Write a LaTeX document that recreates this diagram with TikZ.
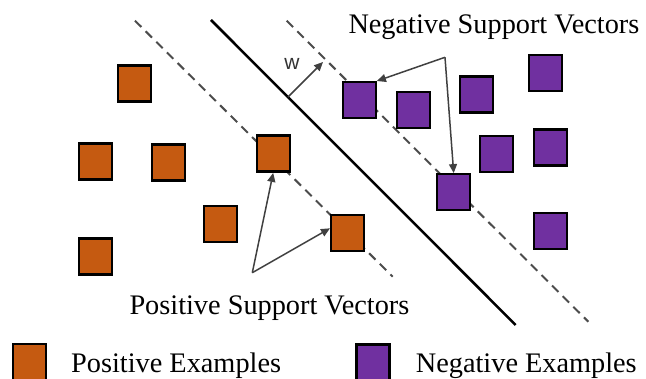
\documentclass[tikz,border=0pt]{standalone}
\usepackage{fontspec}
\setmainfont{Liberation Serif}
\newfontfamily\wfont{Liberation Sans}
\usetikzlibrary{arrows.meta}

\definecolor{posorange}{HTML}{C55A11}
\definecolor{negpurple}{HTML}{7030A0}

\begin{document}
\begin{tikzpicture}[
    x=1pt, y=-1pt,
    possq/.style={rectangle, draw, line width=2.4pt, fill=posorange, minimum width=33pt, minimum height=36pt, inner sep=0pt},
    negsq/.style={possq, fill=negpurple},
    margin/.style={dash pattern=on 9pt off 6pt, line width=2pt, draw=black!70},
    arrow/.style={-{Triangle[length=9pt, width=8pt]}, line width=1.5pt, draw=black!75},
    lbl/.style={font=\fontsize{28.3pt}{34pt}\selectfont, inner sep=0pt, anchor=base west}
]

\useasboundingbox (0,0) rectangle (646,379);
\clip (0,0) rectangle (646,379);

% Hyperplane and margins
\draw[margin] (135,20.7) -- (392.7,276.7);
\draw[line width=2.5pt] (211,20) -- (515.7,325);
\draw[margin] (286.7,20.7) -- (588.3,321.7);

% Normal vector
\coordinate (wbase) at (288,97);
\coordinate (wtip) at (323,62);
\draw[arrow] (wbase) -- (wtip);
\node[font=\wfont\fontsize{21pt}{24pt}\selectfont, text=black!80, inner sep=0pt] (wlbl) at (292,64) {w};

% Positive examples
\foreach \x/\y [count=\i] in {134.5/83.4, 95.5/161.4, 168.2/162.5, 273.2/153.7, 220.4/224.2, 347.7/233.3, 95.5/256.4} {
    \node[possq] (p\i) at (\x,\y) {};
}

% Negative examples
\foreach \x/\y [count=\i] in {359.2/100.2, 413.2/109.8, 476.2/94.7, 545.5/73.2, 496.2/154, 550.7/147.7, 453.7/192.3, 550.7/231.3} {
    \node[negsq] (n\i) at (\x,\y) {};
}

% Support vector labels
\node[lbl] (neglbl) at (348.3,33.3) {Negative Support Vectors};
\coordinate (negapex) at (445,57.3);
\draw[arrow] (negapex) -- (n1.north east);
\draw[arrow] (negapex) -- (n7.north);

\node[lbl] (poslbl) at (129.3,314.3) {Positive Support Vectors};
\coordinate (posapex) at (252.3,272.7);
\draw[arrow] (posapex) -- (p4.south);
\draw[arrow] (posapex) -- ([yshift=5pt]p6.west);

% Legend
\node[possq] (poskey) at (29.7,362) {};
\node[lbl] (poskeylbl) at (71,372.3) {Positive Examples};
\node[negsq] (negkey) at (373,362.5) {};
\node[lbl] (negkeylbl) at (415.7,372.3) {Negative Examples};

\end{tikzpicture}
\end{document}
